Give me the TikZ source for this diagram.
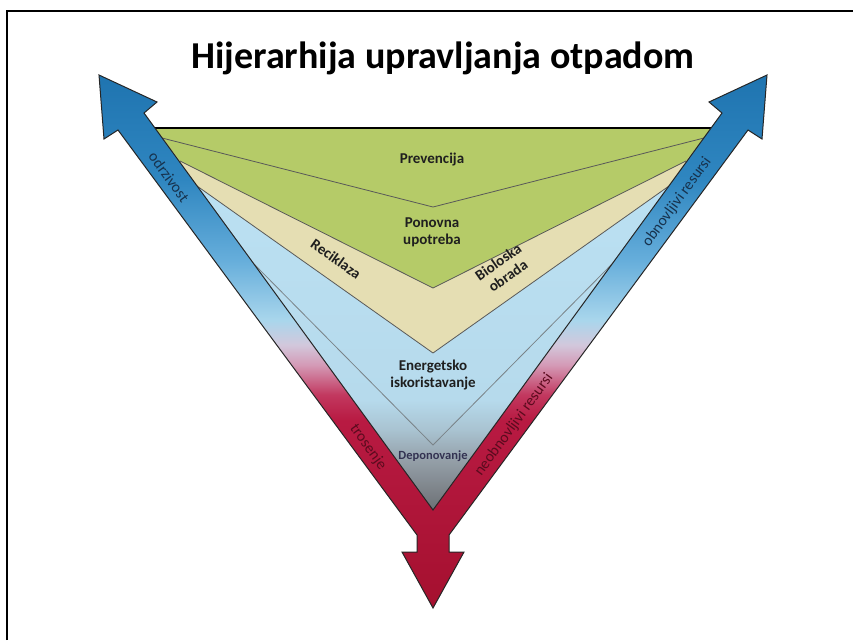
\documentclass[tikz,border=0pt]{standalone}
\usepackage{fontspec}
\setmainfont{Carlito}
\definecolor{bandgreen}{HTML}{B5CB68}
\definecolor{bandtan}{HTML}{E5DEB3}
\definecolor{armnavy}{HTML}{17324D}
\definecolor{armmaroon}{HTML}{5B0B1E}
\definecolor{bandA}{HTML}{BCE2F4}
\definecolor{bandB}{HTML}{B6DAEC}
\definecolor{bandC}{HTML}{A9C3D1}
\definecolor{bandD}{HTML}{949FA8}
\definecolor{bandE}{HTML}{7D8389}
\definecolor{bandF}{HTML}{6B7075}
\pgfdeclareverticalshading{bandblue}{100bp}{%
  color(0bp)=(bandF); color(25bp)=(bandF); color(27.6bp)=(bandE);
  color(31.5bp)=(bandD); color(35.5bp)=(bandC); color(39.4bp)=(bandB);
  color(75bp)=(bandA); color(100bp)=(bandA)}
\definecolor{armA}{HTML}{1F74B0}
\definecolor{armB}{HTML}{2F86C0}
\definecolor{armC}{HTML}{66AEDB}
\definecolor{armD}{HTML}{A9D6EC}
\definecolor{armE}{HTML}{D2C8DC}
\definecolor{armF}{HTML}{D49AB6}
\definecolor{armG}{HTML}{C2385F}
\definecolor{armH}{HTML}{B81A42}
\definecolor{armI}{HTML}{A5102F}
\pgfdeclareverticalshading{armshade}{100bp}{%
  color(0bp)=(armI); color(25bp)=(armI); color(42.6bp)=(armH);
  color(45bp)=(armG); color(47.8bp)=(armF); color(49.7bp)=(armE);
  color(52bp)=(armD); color(57.6bp)=(armC); color(65.2bp)=(armB);
  color(75bp)=(armA); color(100bp)=(armA)}

\begin{document}
\begin{tikzpicture}[x=1pt,y=-1pt,
    lbl/.style={font=\bfseries\fontsize{15}{17}\selectfont,text=black!88,align=center,inner sep=0pt},
    armlbl/.style={font=\fontsize{15.5}{16}\selectfont,inner sep=0pt},
    split/.style={draw=black!65,line width=0.8pt}]
  \useasboundingbox (0,0) rectangle (853,640);
  \draw[line width=1.2pt] (7,640) -- (7,11) -- (853,11);

  % title
  \node[font=\bfseries\fontsize{38}{40}\selectfont,anchor=base] (title) at (443,68) {Hijerarhija upravljanja otpadom};

  % layers of the hierarchy
  \path[shading=bandblue] (155,128) -- (711,128) -- (433,510) -- cycle;
  \fill[bandtan] (155,128) -- (711,128) -- (669,186) -- (433,353) -- (197,186) -- cycle;
  \fill[bandgreen] (155,128) -- (711,128) -- (686,161) -- (433,288) -- (180,161) -- cycle;
  \draw[split] (162,138) -- (433,207) -- (704,138);
  \draw[split] (180,161) -- (433,288) -- (686,161);
  \draw[split] (197,186) -- (433,353) -- (669,186);
  \draw[split,draw=black!60!cyan!30!gray] (254,264) -- (433,445) -- (612,264);
  \draw[line width=1.3pt] (155,128) -- (711,128);

  % the three arrows
  \path[draw=black!85,line width=1pt,shading=armshade]
    (99,75) -- (157,102) -- (144,113) -- (433,510) -- (722,113) -- (709,102)
    -- (767,75) -- (762,139) -- (748,130) -- (449,535) -- (449,552) -- (464,552)
    -- (433,608) -- (402,552) -- (417,552) -- (417,535) -- (118,130) -- (104,139) -- cycle;

  % labels
  \node[lbl] (prev) at (432,160) {Prevencija};
  \node[lbl] (ponov) at (432,232) {Ponovna\\upotreba};
  \node[lbl,rotate=-35] (recik) at (336,259) {Reciklaza};
  \node[lbl,rotate=35] (bio) at (503,269) {Bioloska\\obrada};
  \node[lbl] (energ) at (433,375) {Energetsko\\iskoristavanje};
  \node[lbl,font=\bfseries\fontsize{12.5}{14}\selectfont,text=black!80!blue!60!gray] (depon) at (433,456) {Deponovanje};

  \node[armlbl,text=armnavy,rotate=-54] (odr) at (169,177) {odrzivost};
  \node[armlbl,text=armnavy,rotate=54] (obn) at (677,202) {obnovljivi resursi};
  \node[armlbl,text=armmaroon,rotate=-54] (tros) at (368,447) {trosenje};
  \node[armlbl,text=armmaroon,rotate=54] (neobn) at (514,425) {neobnovljivi resursi};
\end{tikzpicture}
\end{document}
